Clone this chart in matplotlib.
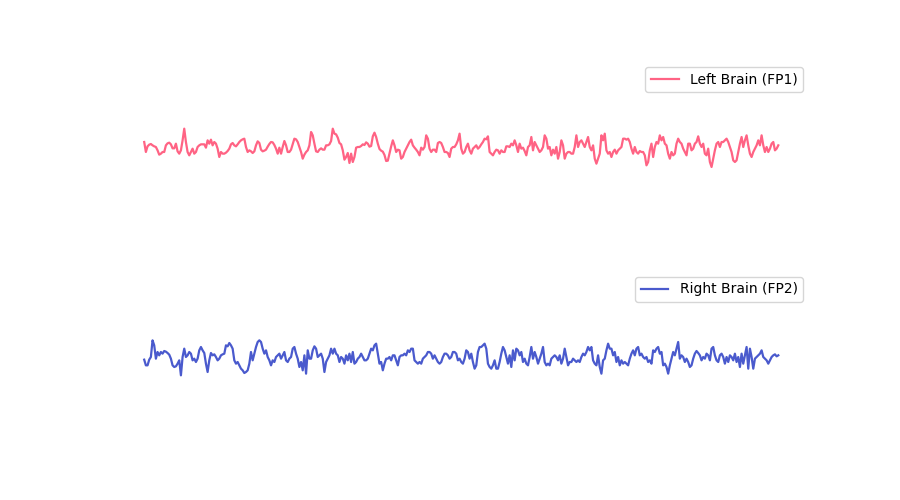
import numpy as np
import matplotlib
matplotlib.use("Agg")
import matplotlib.pyplot as plt

# amplitude readings (arbitrary units), one sample per reading
fp1_parts = [
    [17,-13,4,9,11,7,4,2,-8,-21,-18,-13,-13,7,13,15,10,-2,-2,12,-11,-18,-8,22,57,17,-13,-23,-13,-3,-18,-13,2,7,10,10,10,0,22,12,24,7,17,12,-3,-28,-13,-18,-18,-15,-10,-3,10,14,7,4,10,17,22,25],
    [27,2,-13,-8,-11,-16,-11,7,19,14,-6,-11,-9,-6,3,11,17,16,8,-3,-18,0,-18,2,20,7,-13,-13,-6,10,27,25,17,2,-13,-33,-21,-13,-8,7,47,37,12,-11,-13,-6,-2,-6,-6,7,7,10,20,57,42,40,30,14,10,-8,-36,-28,-16],
    [-46,-18,-43,-28,0,2,2,5,10,8,16,12,3,5,34,45,32,12,-4,-9,-12,-22,-40,-39,-18,4,22,7,-13,-6,-8,-33,-28,-13,-3,7,17,24,7,0,-6,-13,-23,0,-6,2,37,27,-3,-13,-6,-6,-13,14,17,14,2,-13,-13,-16,-28,-3,2],
    [2,10,22,42,-3,-18,-13,2,12,-8,-18,-3,2,7,-3,2,10,17,27,25,34,-13,-18,-23,-13,-6,-8,-18,-8,-13,-13,4,4,2,12,7,22,7,-13,12,-3,0,-10,-23,2,7,32,-8,17,7,-3,-13,-8,2,37,27,-3,2,-23,-6,-18,2,-33],
    [-13,22,7,-33,-18,-13,-13,-18,-18,2,37,2,17,22,12,2,17,32,2,-8,7,-33,-48,-33,-18,37,22,42,-8,-18,-13,-28,-13,-6,-18,-8,-3,2,27,27,24,27,17,-3,-18,2,-13,-18,-10,-13,-13,-23,-53,-43,-8,12,-28,2,17,12,37,22,32],
    [12,7,-18,-33,-13,-23,-18,12,27,17,12,-3,-13,-23,12,12,-8,-3,12,17,34,12,2,12,-18,-23,-3,-43,-58,-33,-8,12,17,2,17,17,22,27,17,2,-13,-38,-43,-38,-13,12,32,2,22,37,7,-18,-28,-13,-3,7,22,7,37,7,-13,2,-13,-3,12,17,-8,-3,7],
]
fp2_parts = [
    [-6,-23,-23,-6,2,52,37,-3,17,7,17,12,20,18,14,9,-3,-23,-28,-26,-18,-8,-53,2,27,2,7,17,12,-8,-3,-13,-3,22,32,22,14,-18,-43,-8,14,7,10,2,-8,-3,7,10,12,37,34,44,37,27,-8,-18,-13,-23,-33,-38],
    [-46,-43,-38,-18,17,-8,12,32,47,52,47,27,12,22,2,-8,-23,-8,-13,2,7,12,-3,7,17,-8,-13,-3,2,27,32,12,-3,-28,-13,-38,7,-48,22,-3,-3,22,34,27,2,7,12,-3,-43,-13,-3,7,27,12,27,12,7,-13,2,-3,-18,7,-8],
    [12,-13,17,-18,-13,-3,2,12,2,-8,-8,-3,12,27,22,37,42,12,-18,-13,-38,-18,-3,-3,2,-8,7,7,-8,-23,2,7,7,12,7,22,17,27,27,-8,-13,-18,-13,-18,-3,2,7,17,17,12,-3,7,-3,-13,-18,-13,2,12,12,7,-3,2,17],
    [17,12,-8,-3,-13,-18,-3,22,17,-3,12,-13,-33,-23,17,32,32,37,42,27,-18,-28,-33,-23,-8,-33,-33,-13,12,32,22,2,-18,7,-28,22,-8,27,22,7,17,-13,-3,-18,-23,2,32,-3,17,2,-18,-3,12,32,-13,-23,-18,-23,-3,2,7,2,-8],
    [7,-18,-3,27,2,-23,-13,-13,-3,-8,-13,-8,-13,2,12,7,17,32,22,32,-8,-18,-23,7,-28,-48,-8,-3,22,42,27,27,7,17,-13,2,-23,-8,-18,-13,-18,-23,-3,12,22,7,27,32,7,12,2,-3,2,-13,-8,-18,22,17,27,32,12,17,-23],
    [-18,-28,-48,-23,-3,17,7,27,47,-3,7,2,-13,-3,-13,-28,-23,-3,12,20,14,7,-8,2,-3,12,7,-8,27,32,7,-8,-13,7,12,2,-18,2,-13,7,2,-8,12,-13,2,-28,12,-18,7,32,-33,27,2,-33,-3,2,7,12,22,2,-3,-8,-18,-8,2,7,10,4,7],
]
fp1 = np.concatenate([np.array(p, dtype=float) for p in fp1_parts])
fp2 = np.concatenate([np.array(p, dtype=float) for p in fp2_parts])
labels = ["Left Brain (FP1)", "Right Brain (FP2)"]
colors = ["#ff6384", "#4a5acd"]

fs = 128.0
t1 = np.arange(len(fp1)) / fs
t2 = np.arange(len(fp2)) / fs

fig, axes = plt.subplots(2, 1, figsize=(9, 5), dpi=100)
for ax, t, sig, lab, col in zip(axes, [t1, t2], [fp1, fp2], labels, colors):
    ax.plot(t, sig, color=col, linewidth=1.6, label=lab)
    ax.set_ylim(-262, 263)
    ax.axis("off")
    ax.legend(loc="upper right")

fig.savefig("out.png", dpi=100)
